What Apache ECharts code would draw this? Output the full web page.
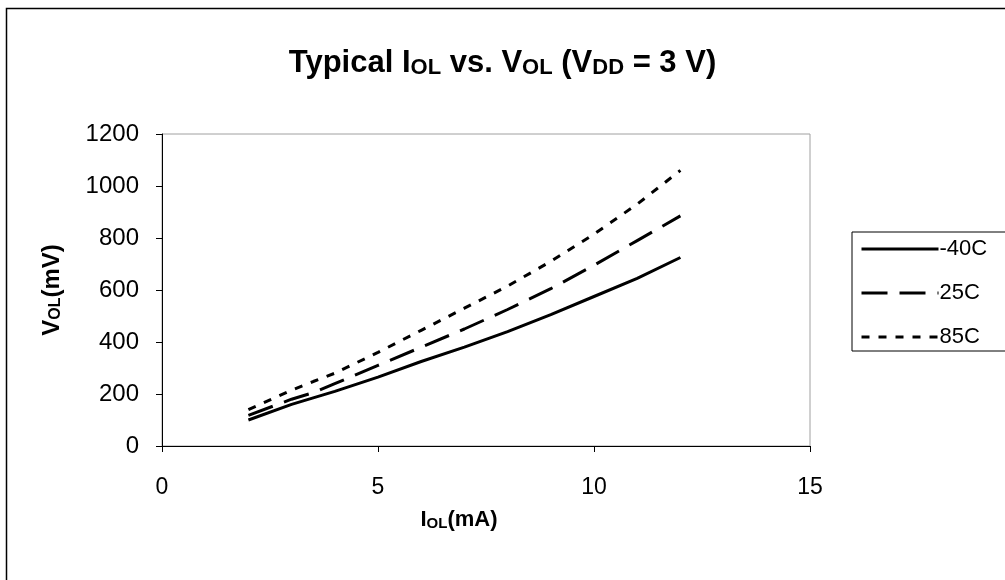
<!DOCTYPE html>
<html>
<head>
<meta charset="utf-8">
<script src="https://cdn.jsdelivr.net/npm/echarts@6/dist/echarts.min.js"></script>
<style>
  html, body { margin: 0; padding: 0; background: #fff; }
  #chart { width: 1005px; height: 580px; }
</style>
</head>
<body>
<div id="chart"></div>
<script>
'use strict'

// I_OL (mA) sample points, shared by all curves
const currents = [2, 3, 3.5, 4, 5, 6, 7, 8, 9, 10, 11, 12];
// V_OL (mV) per temperature
const vMinus40 = [100, 160, 185, 210, 265, 325, 380, 440, 505, 575, 645, 725];
const v25 = [118, 180, 205, 240, 310, 380, 450, 525, 605, 695, 790, 885];
const v85 = [140, 215, 248, 280, 360, 445, 530, 615, 710, 815, 930, 1060];
const seriesNames = ['-40C', '25C', '85C'];

const xTicks = { min: 0, max: 15, interval: 5 };
const yTicks = { min: 0, max: 1200, interval: 200 };

const font = 'Liberation Sans, Arial, sans-serif';

function pairs(ys) {
    return currents.map((x, i) => [x, ys[i]]);
}

const chart = echarts.init(document.getElementById('chart'));

const lineStyles = [
    { color: '#000', width: 3, type: 'solid' },
    { color: '#000', width: 3, type: [26, 12] },
    { color: '#000', width: 3, type: [8, 9] }
];

const boldRich = (big, small) => ({
    b: { fontFamily: font, fontWeight: 'bold', fontSize: big, color: '#000', verticalAlign: 'bottom', lineHeight: big + 6 },
    s: { fontFamily: font, fontWeight: 'bold', fontSize: small, color: '#000', verticalAlign: 'bottom', lineHeight: small + 6 }
});

const option = {
    backgroundColor: '#fff',
    animation: false,
    title: {
        left: 'center',
        top: 37,
        text: '{b|Typical I}{s|OL}{b| vs. V}{s|OL}{b| (V}{s|DD}{b| = 3 V)}',
        textStyle: { rich: boldRich(31, 22) }
    },
    graphic: [
        {
            type: 'rect',
            shape: { x: 6.5, y: 8.5, width: 1100, height: 700 },
            style: { fill: 'none', stroke: '#000', lineWidth: 1.5 },
            silent: true
        }
    ],
    legend: {
        orient: 'vertical',
        left: 852,
        top: 232,
        padding: [6, 60, 3, 8],
        itemGap: 22,
        itemWidth: 77,
        itemHeight: 22,
        borderColor: '#000',
        borderWidth: 1,
        data: seriesNames,
        itemStyle: { opacity: 0 },
        lineStyle: { width: 3 },
        textStyle: { fontFamily: font, fontSize: 22, color: '#000', padding: [0, 0, 0, -4] }
    },
    grid: {
        left: 162,
        top: 134,
        right: 195,
        bottom: 134,
        show: true,
        borderColor: '#a0a0a0',
        borderWidth: 1,
        backgroundColor: '#fff'
    },
    xAxis: {
        type: 'value',
        min: xTicks.min,
        max: xTicks.max,
        interval: xTicks.interval,
        name: '{b|I}{s|OL}{b|(mA)}',
        nameLocation: 'middle',
        nameGap: 57,
        nameTextStyle: {
            padding: [0, 54, 0, 0],
            rich: boldRich(22, 15)
        },
        axisLine: { show: true, onZero: false, lineStyle: { color: '#000', width: 1 } },
        axisTick: { show: true, inside: false, length: 6, lineStyle: { color: '#000' } },
        axisLabel: { fontFamily: font, fontSize: 23, color: '#000', margin: 30 },
        splitLine: { show: false }
    },
    yAxis: {
        type: 'value',
        min: yTicks.min,
        max: yTicks.max,
        interval: yTicks.interval,
        name: '{b|V}{s|OL}{b|(mV)}',
        nameLocation: 'middle',
        nameRotate: 90,
        nameGap: 98,
        nameTextStyle: { rich: boldRich(24, 16) },
        axisLine: { show: true, onZero: false, lineStyle: { color: '#000', width: 1 } },
        axisTick: { show: true, inside: false, length: 6, lineStyle: { color: '#000' } },
        axisLabel: { fontFamily: font, fontSize: 24, color: '#000', margin: 23, formatter: v => String(v) },
        splitLine: { show: false }
    },
    series: [vMinus40, v25, v85].map((ys, i) => ({
        name: seriesNames[i],
        type: 'line',
        data: pairs(ys),
        showSymbol: false,
        symbol: 'none',
        color: '#000',
        lineStyle: lineStyles[i],
        itemStyle: { color: '#000' }
    }))
};

option && chart.setOption(option);
</script>
</body>
</html>
